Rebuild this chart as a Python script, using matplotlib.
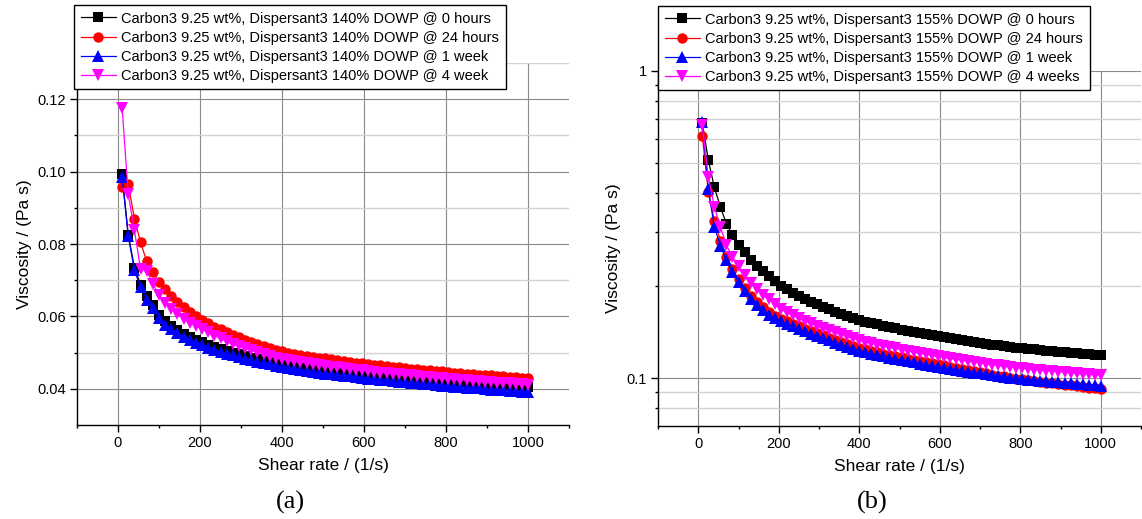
import matplotlib
matplotlib.use('Agg')
import matplotlib.pyplot as plt
from matplotlib.ticker import MultipleLocator, FixedLocator, FixedFormatter, FormatStrFormatter, NullFormatter

plt.rcParams['font.family'] = ['Liberation Sans', 'DejaVu Sans']

# shear rate steps (1/s), same for every series
SHEAR_RATE = [10, 25, 40, 55, 70, 85, 100, 115, 130, 145,
              160, 175, 190, 205, 220, 235, 250, 265, 280, 295,
              310, 325, 340, 355, 370, 385, 400, 415, 430, 445,
              460, 475, 490, 505, 520, 535, 550, 565, 580, 595,
              610, 625, 640, 655, 670, 685, 700, 715, 730, 745,
              760, 775, 790, 805, 820, 835, 850, 865, 880, 895,
              910, 925, 940, 955, 970, 985, 1000]

# panel (a): 140% DOWP
A_LABELS = ["Carbon3 9.25 wt%, Dispersant3 140% DOWP @ 0 hours",
            "Carbon3 9.25 wt%, Dispersant3 140% DOWP @ 24 hours",
            "Carbon3 9.25 wt%, Dispersant3 140% DOWP @ 1 week",
            "Carbon3 9.25 wt%, Dispersant3 140% DOWP @ 4 week"]

A_0H = [.0992, .0826, .0735, .0688, .0655, .0632, .0605, .0586, .0573, .0562,
        .0552, .0543, .0535, .0528, .0521, .0515, .0510, .0504, .0499, .0495,
        .0490, .0486, .0482, .0478, .0475, .0471, .0468, .0465, .0463, .0460,
        .0458, .0455, .0453, .0451, .0449, .0447, .0445, .0443, .0441, .0439,
        .0437, .0436, .0434, .0432, .0431, .0429, .0428, .0426, .0425, .0424,
        .0422, .0421, .0420, .0418, .0417, .0416, .0415, .0414, .0413, .0411,
        .0410, .0409, .0408, .0407, .0406, .0405, .0404]
A_24H = [.0957, .0966, .0870, .0805, .0752, .0722, .0695, .0676, .0656, .0640,
         .0626, .0613, .0602, .0591, .0581, .0572, .0564, .0556, .0548, .0542,
         .0535, .0529, .0524, .0518, .0513, .0508, .0504, .0500, .0497, .0494,
         .0491, .0488, .0486, .0484, .0481, .0479, .0477, .0475, .0472, .0470,
         .0468, .0466, .0465, .0463, .0461, .0459, .0457, .0456, .0454, .0453,
         .0451, .0449, .0448, .0446, .0445, .0443, .0442, .0441, .0439, .0438,
         .0437, .0436, .0434, .0433, .0432, .0431, .0429]
A_1W = [.0985, .0822, .0728, .0680, .0646, .0622, .0596, .0577, .0564, .0553,
        .0544, .0535, .0527, .0520, .0513, .0507, .0502, .0497, .0492, .0487,
        .0483, .0479, .0475, .0471, .0468, .0464, .0461, .0457, .0454, .0452,
        .0449, .0447, .0444, .0442, .0440, .0438, .0436, .0434, .0432, .0430,
        .0428, .0426, .0424, .0423, .0421, .0419, .0418, .0416, .0415, .0413,
        .0412, .0410, .0409, .0407, .0406, .0405, .0403, .0402, .0401, .0399,
        .0398, .0397, .0396, .0395, .0393, .0392, .0391]
A_4W = [.1177, .0938, .0838, .0732, .0726, .0690, .0660, .0638, .0621, .0606,
        .0594, .0583, .0574, .0565, .0556, .0547, .0539, .0531, .0525, .0518,
        .0512, .0506, .0501, .0496, .0491, .0486, .0482, .0479, .0476, .0473,
        .0471, .0468, .0466, .0464, .0461, .0459, .0457, .0455, .0453, .0451,
        .0449, .0447, .0445, .0443, .0442, .0440, .0438, .0437, .0435, .0433,
        .0432, .0430, .0429, .0428, .0426, .0425, .0423, .0422, .0421, .0420,
        .0418, .0417, .0416, .0415, .0414, .0412, .0411]

# panel (b): 155% DOWP
B_LABELS = ["Carbon3 9.25 wt%, Dispersant3 155% DOWP @ 0 hours",
            "Carbon3 9.25 wt%, Dispersant3 155% DOWP @ 24 hours",
            "Carbon3 9.25 wt%, Dispersant3 155% DOWP @ 1 week",
            "Carbon3 9.25 wt%, Dispersant3 155% DOWP @ 4 weeks"]

B_0H = [.679, .513, .418, .361, .318, .292, .272, .257, .243, .232,
        .223, .215, .207, .200, .1946, .1897, .1852, .1811, .1773, .1738,
        .1705, .1674, .1645, .1618, .1592, .1568, .1545, .1528, .1511, .1495,
        .1480, .1466, .1452, .1439, .1426, .1414, .1402, .1390, .1379, .1368,
        .1358, .1348, .1338, .1329, .1320, .1311, .1302, .1294, .1286, .1278,
        .1270, .1262, .1255, .1250, .1244, .1239, .1234, .1229, .1225, .1220,
        .1215, .1211, .1206, .1202, .1198, .1193, .1189]
B_24H = [.614, .404, .325, .280, .247, .226, .210, .196, .185, .1765,
         .170, .164, .1595, .1561, .1532, .1503, .1475, .1448, .1423, .1398,
         .1376, .1353, .1330, .1311, .1291, .1272, .1253, .1239, .1225, .1213,
         .1201, .1188, .1177, .1167, .1157, .1146, .1137, .1127, .1118, .1110,
         .1099, .1090, .1080, .1071, .1061, .1052, .1044, .1036, .1027, .1019,
         .1012, .1003, .0996, .0991, .0984, .0978, .0973, .0967, .0963, .0957,
         .0952, .0947, .0941, .0937, .0931, .0926, .0921]
B_1W = [.680, .412, .311, .270, .242, .221, .206, .192, .1815, .173,
        .1665, .1610, .1565, .1530, .1502, .1474, .1446, .1420, .1395, .1371,
        .1349, .1326, .1304, .1285, .1266, .1247, .1228, .1215, .1201, .1189,
        .1177, .1165, .1154, .1144, .1134, .1124, .1115, .1105, .1096, .1088,
        .1080, .1072, .1064, .1057, .1049, .1042, .1035, .1029, .1022, .1016,
        .1010, .1003, .0998, .0994, .0989, .0985, .0981, .0977, .0974, .0970,
        .0966, .0963, .0959, .0956, .0952, .0948, .0945]
B_4W = [.667, .453, .361, .310, .271, .248, .231, .217, .2045, .195,
        .187, .1805, .174, .168, .1639, .1601, .1567, .1536, .1507, .1481,
        .1456, .1431, .1408, .1387, .1366, .1347, .1329, .1314, .1299, .1286,
        .1273, .1261, .1249, .1238, .1226, .1216, .1206, .1195, .1186, .1176,
        .1168, .1159, .1151, .1143, .1135, .1127, .1120, .1113, .1106, .1099,
        .1092, .1085, .1079, .1075, .1070, .1066, .1061, .1057, .1054, .1049,
        .1045, .1041, .1037, .1034, .1030, .1026, .1023]

COLORS = ["black", "#ff0000", "#0000ff", "#ff00ff"]
MARKERS = ["s", "o", "^", "v"]
MSIZES = [6.5, 7.5, 8, 8]

W, H = 1142, 519


def style_axes(ax):
    for side in ["top", "right"]:
        ax.spines[side].set_visible(False)
    for side in ["left", "bottom"]:
        ax.spines[side].set_linewidth(1.0)
    ax.set_xlim(-100, 1100)
    ax.xaxis.set_major_locator(MultipleLocator(200))
    ax.xaxis.set_minor_locator(MultipleLocator(100))
    ax.tick_params(which="major", direction="out", length=5, width=1, labelsize=10.5, pad=3)
    ax.tick_params(which="minor", direction="out", length=2.5, width=1)
    ax.set_axisbelow(True)
    ax.grid(True, which="major", axis="both", color="#8a8a8a", linewidth=0.8)
    ax.grid(True, which="minor", axis="y", color="#d2d2d2", linewidth=1.0)
    ax.set_xlabel("Shear rate / (1/s)", fontsize=12.5, labelpad=6)
    ax.set_ylabel("Viscosity / (Pa s)", fontsize=12.5, labelpad=4)


def draw_series(ax, series, labels):
    handles = []
    for ys, lab, c, m, ms in zip(series, labels, COLORS, MARKERS, MSIZES):
        h, = ax.plot(SHEAR_RATE, ys, color=c, marker=m, markersize=ms,
                     markeredgewidth=0, linewidth=0.9, label=lab)
        handles.append(h)
    return handles


def add_legend(fig, handles, x, y):
    fig.legend(handles=handles, loc="upper left", bbox_to_anchor=(x / W, 1 - y / H),
               borderaxespad=0, fontsize=10.5, frameon=True, fancybox=False,
               edgecolor="black", framealpha=1, handlelength=2.4,
               handletextpad=0.4, labelspacing=0.35, borderpad=0.45)


def main():
    fig = plt.figure(figsize=(W / 100, H / 100), dpi=100)

    # panel (a)
    ax1 = fig.add_axes([77 / W, 1 - 425 / H, (569 - 77) / W, (425 - 63) / H])
    hs = draw_series(ax1, [A_0H, A_24H, A_1W, A_4W], A_LABELS)
    style_axes(ax1)
    ax1.set_ylim(0.03, 0.13)
    ax1.yaxis.set_major_locator(FixedLocator([0.04, 0.06, 0.08, 0.10, 0.12]))
    ax1.yaxis.set_minor_locator(FixedLocator([0.05, 0.07, 0.09, 0.11, 0.13]))
    ax1.yaxis.set_major_formatter(FormatStrFormatter("%.2f"))
    add_legend(fig, hs, 74, 5)

    # panel (b)
    ax2 = fig.add_axes([658 / W, 1 - 426 / H, (1141 - 658) / W, (426 - 71) / H])
    hs = draw_series(ax2, [B_0H, B_24H, B_1W, B_4W], B_LABELS)
    ax2.set_yscale("log")
    style_axes(ax2)
    ax2.set_ylim(0.0698, 1.0)
    ax2.yaxis.set_major_locator(FixedLocator([0.1, 1.0]))
    ax2.yaxis.set_major_formatter(FixedFormatter(["0.1", "1"]))
    ax2.yaxis.set_minor_locator(FixedLocator([0.08, 0.09, 0.2, 0.3, 0.4, 0.5,
                                              0.6, 0.7, 0.8, 0.9]))
    ax2.yaxis.set_minor_formatter(NullFormatter())
    add_legend(fig, hs, 658, 6)

    fig.text(290 / W, 1 - 502 / H, "(a)", ha="center", va="center",
             fontsize=19, family="Liberation Serif")
    fig.text(872 / W, 1 - 502 / H, "(b)", ha="center", va="center",
             fontsize=19, family="Liberation Serif")

    fig.savefig("out.png", dpi=100)


if __name__ == "__main__":
    main()
